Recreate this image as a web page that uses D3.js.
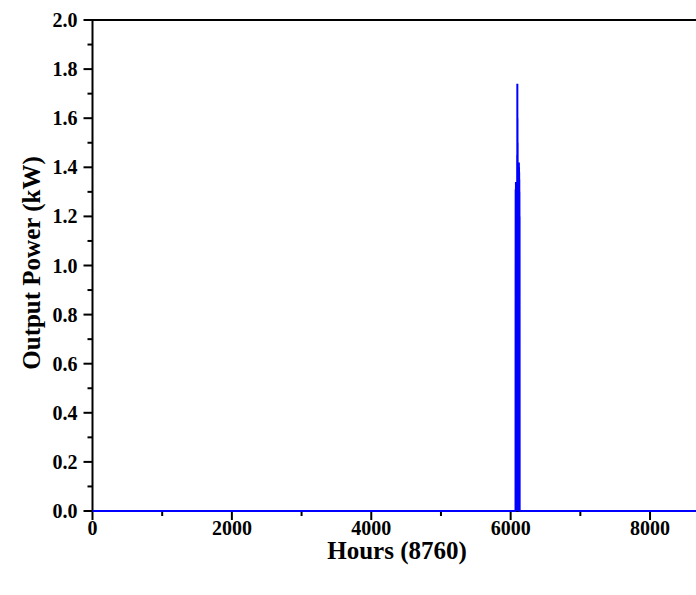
<!DOCTYPE html>
<html>
<head>
<meta charset="utf-8">
<script src="https://cdn.jsdelivr.net/npm/d3@7.9.0/dist/d3.min.js"></script>
<style>
  body { margin: 0; background: #fff; }
  svg text { font-family: "Liberation Serif", "Times New Roman", serif; font-weight: bold; fill: #000; }
</style>
</head>
<body>
<svg id="chart" width="696" height="595"></svg>
<script>
const TOTAL_HOURS = 8760;
const xTicks = [0, 2000, 4000, 6000, 8000];
const yTicks = [0, 0.2, 0.4, 0.6, 0.8, 1.0, 1.2, 1.4, 1.6, 1.8, 2.0];

// the only non-zero stretch of the year (hourly output, kW)
const burstStart = 6070;
const burstValues = [
  0, 0.9, 1.31, 0.15, 1.28, 0.05, 1.34, 0.3, 1.2, 0, 1.1, 0.4,
  1.33, 0.1, 1.25, 0, 1.3, 0.2, 1.15, 0, 1.32, 0.35, 1.2, 0,
  1.45, 0.1, 1.74, 0.2, 1.6, 0, 1.5, 0.3, 1.38, 0.05, 1.3, 0,
  1.2, 0.15, 1.35, 0, 1.25, 0.2, 1.1, 0, 1.3, 0.1, 1.2, 0,
  1.42, 0.7, 1.4, 0.8, 1.38, 0.72, 1.35, 0.75, 1.3, 0.7, 1.2, 0,
  0
];

const series = [[0, 0], [burstStart - 1, 0]];
burstValues.forEach((v, i) => series.push([burstStart + i, v]));
series.push([burstStart + burstValues.length, 0], [TOTAL_HOURS, 0]);

const svg = d3.select('#chart');
const x = d3.scaleLinear().domain([0, TOTAL_HOURS]).range([92.5, 703]);
const y = d3.scaleLinear().domain([0, 2]).range([511, 20]);

// top frame
svg.append('line')
  .attr('x1', x(0)).attr('x2', x(TOTAL_HOURS))
  .attr('y1', y(2)).attr('y2', y(2))
  .attr('stroke', '#000').attr('stroke-width', 2);
svg.append('line')
  .attr('x1', x(TOTAL_HOURS)).attr('x2', x(TOTAL_HOURS))
  .attr('y1', y(0)).attr('y2', y(2))
  .attr('stroke', '#000').attr('stroke-width', 2);

// x axis
const xMinor = d3.range(1000, TOTAL_HOURS, 2000);
const gx = svg.append('g').attr('transform', `translate(0,${y(0)})`);
gx.append('line').attr('x1', x(0)).attr('x2', x(TOTAL_HOURS))
  .attr('stroke', '#000').attr('stroke-width', 2);
gx.selectAll('.minor').data(xMinor).join('line')
  .attr('x1', d => x(d)).attr('x2', d => x(d))
  .attr('y1', 0).attr('y2', 5)
  .attr('stroke', '#000').attr('stroke-width', 2);
gx.selectAll('.major').data(xTicks).join('line')
  .attr('x1', d => x(d)).attr('x2', d => x(d))
  .attr('y1', 0).attr('y2', 9)
  .attr('stroke', '#000').attr('stroke-width', 2);
gx.selectAll('text').data(xTicks).join('text')
  .attr('x', d => x(d)).attr('y', 24)
  .attr('text-anchor', 'middle')
  .style('font-size', '20px')
  .text(d => d);

// y axis
const yMinor = d3.range(0.1, 2, 0.2);
const gy = svg.append('g').attr('transform', `translate(${x(0)},0)`);
gy.append('line').attr('y1', y(0) + 1).attr('y2', y(2) - 1)
  .attr('stroke', '#000').attr('stroke-width', 2);
gy.selectAll('.minor').data(yMinor).join('line')
  .attr('y1', d => y(d)).attr('y2', d => y(d))
  .attr('x1', 0).attr('x2', -5)
  .attr('stroke', '#000').attr('stroke-width', 2);
gy.selectAll('.major').data(yTicks).join('line')
  .attr('y1', d => y(d)).attr('y2', d => y(d))
  .attr('x1', 0).attr('x2', -9)
  .attr('stroke', '#000').attr('stroke-width', 2);
gy.selectAll('text').data(yTicks).join('text')
  .attr('x', -15).attr('y', d => y(d))
  .attr('dy', '0.35em')
  .attr('text-anchor', 'end')
  .style('font-size', '20px')
  .text(d => d.toFixed(1));

// data line
const line = d3.line().x(d => x(d[0])).y(d => y(d[1]));
svg.append('path')
  .datum(series)
  .attr('d', line)
  .attr('fill', 'none')
  .attr('stroke', '#0000ff')
  .attr('stroke-width', 2);

// axis titles
svg.append('text')
  .attr('x', 397).attr('y', 559)
  .attr('text-anchor', 'middle')
  .style('font-size', '25px')
  .text('Hours (8760)');
svg.append('text')
  .attr('transform', 'translate(40,263) rotate(-90)')
  .attr('text-anchor', 'middle')
  .style('font-size', '25px')
  .text('Output Power (kW)');
</script>
</body>
</html>
